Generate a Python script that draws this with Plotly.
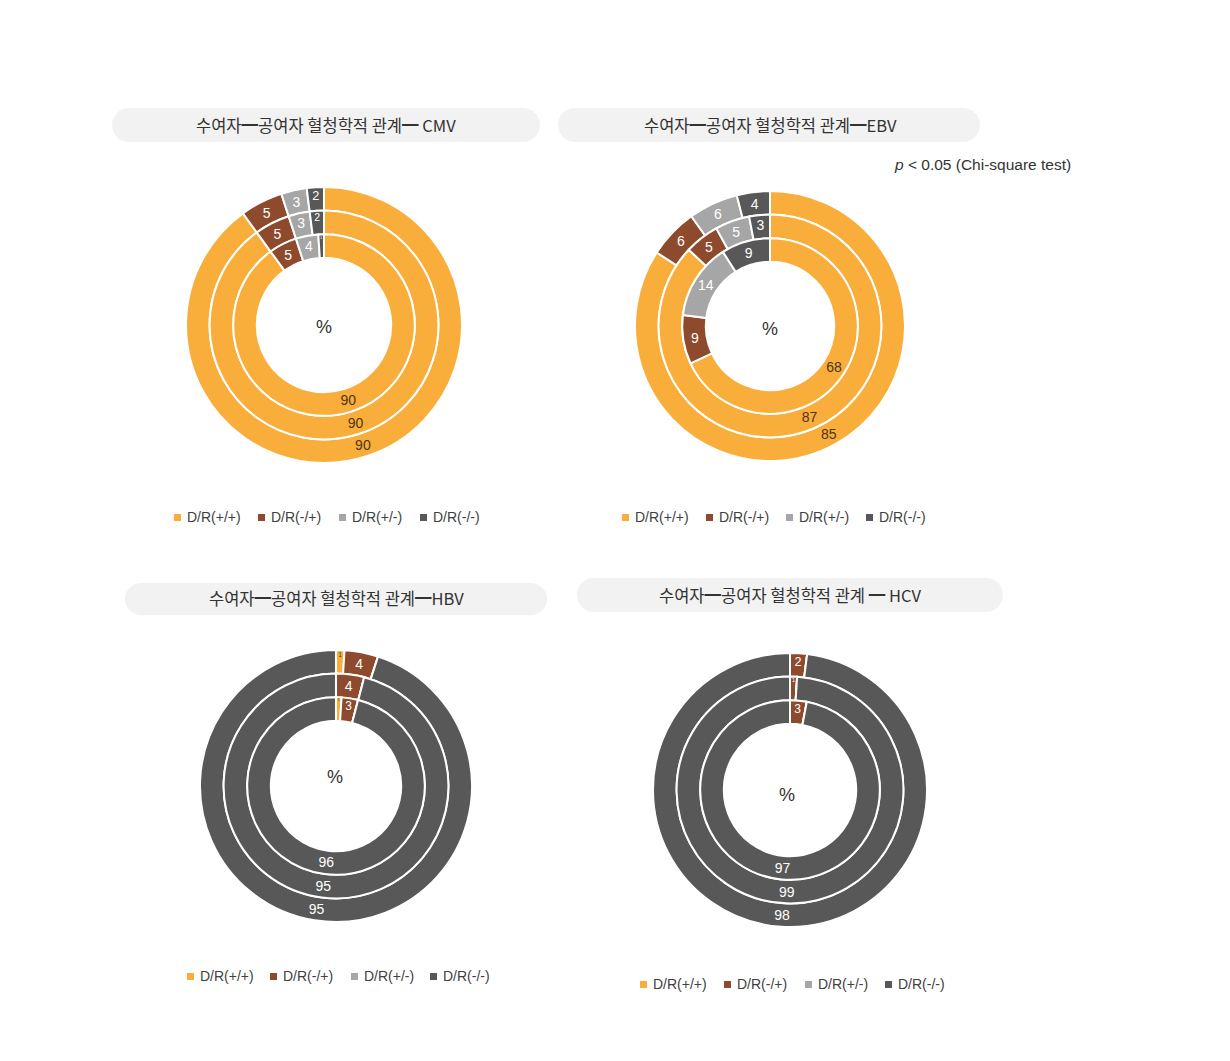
import plotly.graph_objects as go

# ---------------- data ----------------
categories = ["D/R(+/+)", "D/R(-/+)", "D/R(+/-)", "D/R(-/-)"]

cmv_outer = [90, 5, 3, 2]
cmv_middle = [90, 5, 3, 2]
cmv_inner = [90, 5, 4, 1]

ebv_outer = [85, 6, 6, 4]
ebv_middle = [87, 5, 5, 3]
ebv_inner = [68, 9, 14, 9]

hbv_outer = [1, 4, 0, 95]
hbv_middle = [0, 4, 0, 95]
hbv_inner = [1, 3, 0, 96]

hcv_outer = [0, 2, 0, 98]
hcv_middle = [0, 1, 0, 99]
hcv_inner = [0, 3, 0, 97]

titles = [
    "수여자━공여자 혈청학적 관계━ CMV",
    "수여자━공여자 혈청학적 관계━EBV",
    "수여자━공여자 혈청학적 관계━HBV",
    "수여자━공여자 혈청학적 관계 ━ HCV",
]

# ---------------- style / layout ----------------
W, H = 1230, 1061
colors = ["#F9AE3C", "#8E4A2D", "#A6A6A6", "#585858"]
text_colors = ["#4f3416", "#ffffff", "#ffffff", "#ffffff"]
RING_T = 23.6  # ring thickness in px

panels = [
    dict(rings=[cmv_outer, cmv_middle, cmv_inner], cx=324, cy=325, R=138,
         pct=(324, 327), box=(112, 108, 540, 142), tpos=(326, 125),
         leg_y=517, leg_x=[174, 258, 339, 420]),
    dict(rings=[ebv_outer, ebv_middle, ebv_inner], cx=770, cy=326, R=135,
         pct=(770, 329), box=(558, 108, 980, 142), tpos=(770, 125),
         leg_y=517, leg_x=[622, 706, 786, 866]),
    dict(rings=[hbv_outer, hbv_middle, hbv_inner], cx=336, cy=786, R=136,
         pct=(335, 777), box=(125, 583, 547, 615), tpos=(336, 598),
         leg_y=976, leg_x=[187, 270, 351, 430]),
    dict(rings=[hcv_outer, hcv_middle, hcv_inner], cx=790, cy=790, R=137,
         pct=(787, 795), box=(577, 578, 1003, 612), tpos=(790, 595),
         leg_y=984, leg_x=[640, 724, 805, 885]),
]


def px_x(x):
    return x / W


def px_y(y):
    return 1 - y / H


fig = go.Figure()
shapes = []
annotations = []

for i, p in enumerate(panels):
    cx, cy, R = p["cx"], p["cy"], p["R"]
    for k, vals in enumerate(p["rings"]):
        r_out = R - k * RING_T
        r_in = r_out - RING_T
        fig.add_trace(go.Pie(
            labels=categories,
            values=vals,
            text=[str(v) if v else "" for v in vals],
            textinfo="text",
            textposition="inside",
            insidetextorientation="horizontal",
            insidetextfont=dict(family="Arial", size=14, color=text_colors),
            marker=dict(colors=colors, line=dict(color="white", width=2)),
            hole=r_in / r_out,
            sort=False,
            direction="clockwise",
            rotation=0,
            showlegend=False,
            hoverinfo="label+value",
            domain=dict(x=[px_x(cx - r_out), px_x(cx + r_out)],
                        y=[px_y(cy + r_out), px_y(cy - r_out)]),
        ))
    # center "%"
    annotations.append(dict(x=px_x(p["pct"][0]), y=px_y(p["pct"][1]), xref="paper", yref="paper",
                            text="%", showarrow=False, xanchor="center", yanchor="middle",
                            font=dict(family="Arial", size=18, color="#333333")))
    # title box (stadium shape)
    x0, y0, x1, y1 = p["box"]
    rr = (y1 - y0) / 2
    fill = "#F2F2F2"
    shapes.append(dict(type="rect", xref="paper", yref="paper", layer="below",
                       x0=px_x(x0 + rr), x1=px_x(x1 - rr), y0=px_y(y1), y1=px_y(y0),
                       fillcolor=fill, line=dict(width=0)))
    for ccx in (x0 + rr, x1 - rr):
        shapes.append(dict(type="circle", xref="paper", yref="paper", layer="below",
                           x0=px_x(ccx - rr), x1=px_x(ccx + rr), y0=px_y(y1), y1=px_y(y0),
                           fillcolor=fill, line=dict(width=0)))
    annotations.append(dict(x=px_x(p["tpos"][0]), y=px_y(p["tpos"][1]), xref="paper", yref="paper",
                            text=titles[i], showarrow=False, xanchor="center", yanchor="middle",
                            font=dict(family="Noto Sans CJK KR", size=16.5, color="#333333")))
    # legend
    for j, cat in enumerate(categories):
        lx = p["leg_x"][j]
        ly = p["leg_y"]
        shapes.append(dict(type="rect", xref="paper", yref="paper",
                           x0=px_x(lx), x1=px_x(lx + 7), y0=px_y(ly + 4), y1=px_y(ly - 3),
                           fillcolor=colors[j], line=dict(width=0)))
        annotations.append(dict(x=px_x(lx + 11), y=px_y(ly), xref="paper", yref="paper",
                                text=cat, showarrow=False, xanchor="left", yanchor="middle",
                                font=dict(family="Arial", size=14, color="#404040")))

annotations.append(dict(x=px_x(1073), y=px_y(164), xref="paper", yref="paper",
                        text="<i>p</i> < 0.05 (Chi-square test)", showarrow=False,
                        xanchor="right", yanchor="middle",
                        font=dict(family="Arial", size=15.5, color="#333333")))

fig.update_layout(
    width=W, height=H,
    margin=dict(l=0, r=0, t=0, b=0),
    paper_bgcolor="white",
    plot_bgcolor="white",
    shapes=shapes,
    annotations=annotations,
    showlegend=False,
)

fig.write_html("out.html")
